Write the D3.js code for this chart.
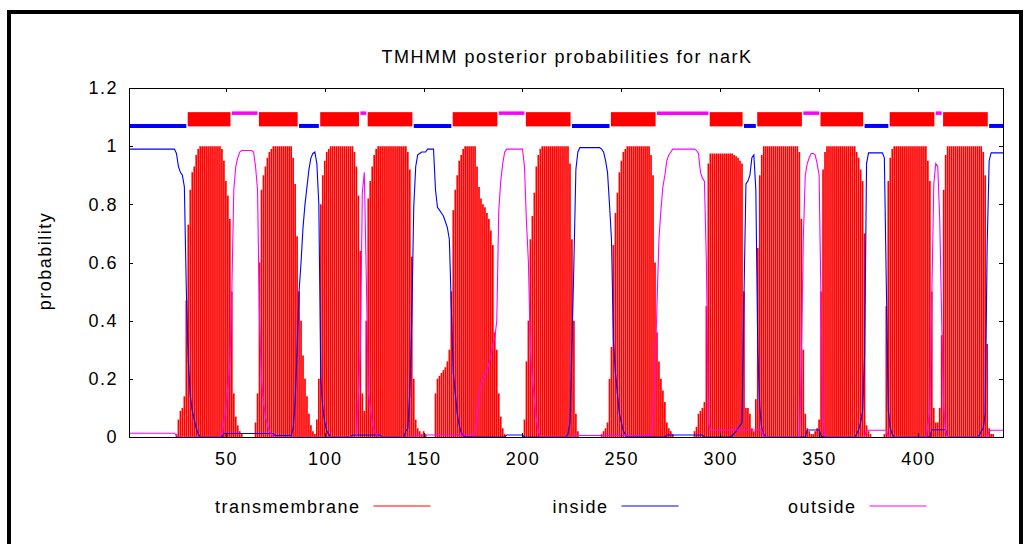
<!DOCTYPE html>
<html>
<head>
<meta charset="utf-8">
<script src="https://cdn.jsdelivr.net/npm/d3@7"></script>
<style>
  html, body { margin: 0; padding: 0; background: #fff; }
  svg { display: block; }
  text {
    font-family: "Liberation Sans", Arial, Helvetica, sans-serif;
    font-size: 18px;
    letter-spacing: 1.5px;
    fill: #000;
  }
</style>
</head>
<body>
<svg id="chart" width="1024" height="544"></svg>
<script>
// ---- data -------------------------------------------------------------
const chartTitle = "TMHMM posterior probabilities for narK";
const yAxisLabel = "probability";
const seqLength = 443;
const xTicks = [50, 100, 150, 200, 250, 300, 350, 400];
const yTicks = [0, 0.2, 0.4, 0.6, 0.8, 1, 1.2];
const seriesNames = ["transmembrane", "inside", "outside"];

// posterior probability per residue (1..443)
const transmembrane = [
  0,0,0,0,0,0,0,0,0,0,
  0,0,0,0,0,0,0,0,0,0,
  0,0,0,0,0.01,0.06,0.09,0.1,0.14,0.47,
  0.73,0.85,0.91,0.93,0.97,0.99,1,1,1,1,
  1,1,1,1,1,1,1,0.99,0.95,0.88,
  0.83,0.75,0.5,0.15,0.07,0.04,0.02,0.01,0,0,
  0,0,0,0,0.05,0.15,0.6,0.85,0.9,0.93,
  0.96,0.98,0.99,1,1,1,1,1,1,1,
  1,1,1,0.96,0.87,0.69,0.5,0.4,0.28,0.2,
  0.14,0.08,0.04,0.02,0.01,0.06,0.2,0.8,0.9,0.95,
  0.98,0.99,1,1,1,1,1,1,1,1,
  1,1,1,1,0.98,0.93,0.83,0.64,0.15,0.09,
  0.4,0.82,0.88,0.93,0.97,0.99,1,1,1,1,
  1,1,1,1,1,1,1,1,1,1,
  1,0.98,0.92,0.62,0.2,0.06,0.03,0.02,0.01,0.02,
  0.01,0,0,0,0,0.15,0.2,0.21,0.22,0.23,
  0.24,0.26,0.3,0.5,0.78,0.85,0.9,0.95,0.97,0.99,
  1,1,1,1,1,1,0.93,0.86,0.82,0.8,
  0.79,0.77,0.75,0.71,0.66,0.36,0.3,0.15,0.07,0.03,
  0.01,0,0,0,0,0,0,0,0,0,
  0.06,0.26,0.4,0.68,0.76,0.84,0.93,0.97,0.99,1,
  1,1,1,1,1,1,1,1,1,1,
  1,1,1,0.94,0.68,0.4,0.08,0.02,0,0,
  0,0,0,0,0,0,0,0,0,0.01,
  0.02,0.03,0.05,0.2,0.31,0.66,0.77,0.84,0.91,0.95,
  0.98,0.99,1,1,1,1,1,1,1,1,
  1,1,1,1,0.97,0.9,0.6,0.36,0.26,0.2,
  0.16,0.12,0.05,0.03,0.02,0.01,0,0,0,0,
  0,0,0,0,0,0,0.02,0.035,0.08,0.09,
  0.1,0.12,0.45,0.94,0.975,0.975,0.975,0.975,0.975,0.975,
  0.975,0.975,0.975,0.975,0.975,0.975,0.97,0.965,0.96,0.95,
  0.94,0.5,0.1,0.1,0.08,0.03,0.02,0.13,0.65,0.9,
  0.97,1,1,1,1,1,1,1,1,1,
  1,1,1,1,1,1,1,1,1,0.98,
  0.75,0.3,0.08,0.03,0.02,0.01,0.01,0.02,0.03,0.06,
  0.5,0.92,0.98,1,1,1,1,1,1,1,
  1,1,1,1,1,1,1,1,0.98,0.96,
  0.92,0.88,0.7,0.04,0.02,0.01,0,0,0,0,
  0,0,0.01,0.45,0.88,0.96,0.99,1,1,1,
  1,1,1,1,1,1,1,1,1,1,
  1,1,1,1,0.95,0.88,0.5,0.1,0.05,0.05,
  0.1,0.35,0.85,0.97,1,1,1,1,1,1,
  1,1,1,1,1,1,1,1,1,1,
  1,1,0.98,0.9,0.32,0.03,0.01,0.01,0,0,
  0,0,0
];

const inside = [
  0.99,0.99,0.99,0.99,0.99,0.99,0.99,0.99,0.99,0.99,
  0.99,0.99,0.99,0.99,0.99,0.99,0.99,0.99,0.99,0.99,
  0.99,0.99,0.99,0.99,0.975,0.93,0.91,0.9,0.86,0.5,
  0.26,0.14,0.09,0.06,0.03,0.01,0,0,0,0,
  0,0,0,0,0,0,0,0,0.012,0.012,
  0.012,0.012,0.012,0.012,0.012,0.012,0.012,0.012,0.012,0.012,
  0.012,0.012,0.012,0.012,0.012,0.012,0.012,0.012,0.012,0.012,
  0.012,0.012,0.012,0.012,0.005,0.005,0.005,0.005,0.005,0.005,
  0.005,0.005,0.005,0.03,0.12,0.3,0.5,0.6,0.72,0.8,
  0.86,0.92,0.96,0.975,0.98,0.94,0.8,0.2,0.1,0.05,
  0.02,0.01,0,0,0,0,0,0,0,0,
  0,0,0,0.007,0.007,0.007,0.007,0.007,0.007,0.007,
  0.007,0.007,0.007,0.007,0.007,0.007,0.007,0.007,0,0,
  0,0,0,0,0,0,0,0,0,0,
  0.02,0.03,0.15,0.4,0.79,0.93,0.97,0.975,0.98,0.98,
  0.98,0.99,0.99,0.99,0.99,0.85,0.79,0.78,0.77,0.76,
  0.74,0.72,0.68,0.45,0.22,0.15,0.08,0.04,0.015,0.005,
  0,0,0,0,0,0,0,0,0,0,
  0,0,0,0,0,0,0,0,0,0,
  0,0.007,0.007,0.007,0.007,0.007,0.007,0.007,0.007,0.007,
  0,0,0,0,0,0,0,0,0,0,
  0,0,0,0,0,0,0,0,0,0,
  0,0,0.01,0.05,0.31,0.6,0.92,0.98,0.995,0.995,
  0.995,0.995,0.995,0.995,0.995,0.995,0.995,0.995,0.995,0.99,
  0.98,0.95,0.91,0.8,0.68,0.33,0.22,0.15,0.08,0.05,
  0.02,0.01,0,0,0,0,0,0,0,0,
  0,0,0,0,0,0,0,0,0,0,
  0,0,0.007,0.007,0.007,0.007,0.007,0.007,0.007,0.007,
  0.007,0.007,0.007,0.007,0.007,0.007,0.007,0.007,0.007,0.007,
  0.007,0,0,0,0,0,0,0,0,0,
  0,0,0,0,0,0.005,0.012,0.02,0.03,0.04,
  0.05,0.48,0.87,0.88,0.9,0.96,0.97,0.85,0.3,0.1,
  0.03,0.01,0,0,0,0,0,0,0,0,
  0,0,0,0,0,0,0,0,0,0,
  0,0,0,0.024,0.024,0.024,0.024,0.024,0.024,0.024,
  0.005,0,0,0,0,0,0,0,0,0,
  0,0,0,0,0,0,0,0,0.01,0.025,
  0.05,0.09,0.28,0.94,0.977,0.977,0.977,0.977,0.977,0.977,
  0.977,0.977,0.96,0.52,0.09,0.03,0.01,0,0,0,
  0,0,0,0,0,0,0,0,0,0,
  0,0,0,0,0,0,0.025,0.025,0.025,0.025,
  0.025,0.025,0.025,0.025,0,0,0,0,0,0,
  0,0,0,0,0,0,0,0,0,0,
  0.005,0.02,0.03,0.08,0.66,0.95,0.977,0.977,0.977,0.977,
  0.977,0.977,0.977
];

const outside = [
  0.013,0.013,0.013,0.013,0.013,0.013,0.013,0.013,0.013,0.013,
  0.013,0.013,0.013,0.013,0.013,0.013,0.013,0.013,0.013,0.013,
  0.013,0.013,0.013,0.013,0.005,0,0,0,0,0,
  0,0,0,0,0,0,0,0,0,0,
  0,0,0,0,0,0,0,0.01,0.05,0.1,
  0.17,0.25,0.5,0.85,0.93,0.96,0.98,0.985,0.985,0.985,
  0.985,0.985,0.985,0.98,0.93,0.85,0.4,0.2,0.12,0.07,
  0.04,0.02,0.01,0,0,0,0,0,0,0,
  0,0,0,0,0,0,0,0,0,0,
  0,0,0,0,0,0,0,0,0,0,
  0,0,0,0,0,0,0,0,0,0,
  0,0,0,0,0,0,0.15,0.3,0.84,0.91,
  0.55,0.16,0.1,0.05,0.02,0.01,0,0,0,0,
  0,0,0,0,0,0,0,0,0,0,
  0,0,0,0,0.007,0.007,0.007,0.007,0.007,0.007,
  0.007,0.007,0.007,0.007,0.007,0.007,0.007,0.007,0.007,0.007,
  0.007,0.007,0.007,0.007,0.007,0.007,0.007,0.007,0.007,0.007,
  0.007,0.007,0.007,0.007,0.007,0.01,0.07,0.14,0.18,0.2,
  0.21,0.23,0.25,0.28,0.32,0.34,0.4,0.78,0.88,0.94,
  0.98,0.99,0.99,0.99,0.99,0.99,0.99,0.99,0.99,0.99,
  0.93,0.74,0.6,0.3,0.2,0.13,0.06,0.02,0,0,
  0,0,0,0,0,0,0,0,0,0,
  0,0,0,0,0,0.007,0.007,0.007,0.005,0.005,
  0.005,0.005,0.005,0.005,0.005,0.005,0.005,0.005,0.005,0.005,
  0.005,0.005,0.005,0.005,0.005,0.005,0.005,0.005,0.005,0.005,
  0.005,0.005,0.005,0.005,0.005,0.005,0.005,0.005,0.005,0.005,
  0.005,0.005,0.005,0.005,0.005,0.06,0.2,0.45,0.68,0.78,
  0.86,0.9,0.95,0.97,0.98,0.99,0.99,0.99,0.99,0.99,
  0.99,0.99,0.99,0.99,0.99,0.99,0.99,0.985,0.975,0.91,
  0.89,0.88,0.6,0.05,0.024,0.024,0.024,0.024,0.024,0.024,
  0.024,0.024,0.024,0.024,0.024,0.024,0.024,0.024,0.024,0.024,
  0.024,0.024,0.024,0.024,0.024,0.024,0.024,0.024,0.024,0.024,
  0.024,0,0,0,0,0,0,0,0,0,
  0,0,0,0,0,0,0,0,0,0,
  0.24,0.68,0.9,0.94,0.96,0.975,0.975,0.97,0.94,0.9,
  0.45,0.06,0.01,0,0,0,0,0,0,0,
  0,0,0,0,0,0,0,0,0,0,
  0,0,0,0.023,0.023,0.023,0.023,0.023,0.023,0.023,
  0.023,0.023,0.023,0.023,0,0,0,0,0,0,
  0,0,0,0,0,0,0,0,0,0,
  0,0,0,0,0.04,0.1,0.48,0.87,0.94,0.93,
  0.75,0.4,0.1,0.02,0,0,0,0,0,0,
  0,0,0,0,0,0,0,0,0,0,
  0,0,0,0,0,0.02,0.023,0.023,0.023,0.023,
  0.023,0.023,0.023
];

// predicted topology: segment kind with first and last residue
const topoType  = ["inside","TMhelix","outside","TMhelix","inside","TMhelix","outside","TMhelix",
                   "inside","TMhelix","outside","TMhelix","inside","TMhelix","outside","TMhelix",
                   "inside","TMhelix","outside","TMhelix","inside","TMhelix","outside","TMhelix","inside"];
const topoStart = [1, 31, 53, 67, 87, 98, 118, 122, 145, 165, 188, 202, 225, 245, 268, 295,
                   312, 319, 342, 351, 373, 386, 409, 413, 436];
const topoEnd   = [30, 52, 66, 86, 97, 117, 121, 144, 164, 187, 201, 224, 244, 267, 294, 311,
                   318, 341, 350, 372, 385, 408, 412, 435, 443];

// ---- drawing ----------------------------------------------------------
const RED = "#ff0000", BLUE = "#0000ff", MAGENTA = "#ff00ff";
const svg = d3.select("#chart");
const plotBox = { left: 129, right: 1003, top: 88, bottom: 437 };

const x = d3.scaleLinear().domain([1, seqLength]).range([plotBox.left, plotBox.right]);
const y = d3.scaleLinear().domain([0, 1.2]).range([plotBox.bottom, plotBox.top]);

// page frame
svg.append("rect")
  .attr("x", 9).attr("y", 12).attr("width", 1012).attr("height", 600)
  .attr("fill", "none").attr("stroke", "#000").attr("stroke-width", 4);

svg.append("defs").append("clipPath").attr("id", "plot-clip")
  .append("rect")
  .attr("x", plotBox.left).attr("y", plotBox.top)
  .attr("width", plotBox.right - plotBox.left)
  .attr("height", plotBox.bottom - plotBox.top);

const plot = svg.append("g").attr("clip-path", "url(#plot-clip)");
const residues = d3.range(1, seqLength + 1);

// transmembrane posterior as impulses
plot.append("g").selectAll("line")
  .data(residues.filter(r => transmembrane[r - 1] > 0))
  .join("line")
  .attr("x1", r => x(r)).attr("x2", r => x(r))
  .attr("y1", y(0)).attr("y2", r => y(transmembrane[r - 1]))
  .attr("stroke", RED).attr("stroke-width", 1.7);

// inside / outside posterior curves
const curve = d3.line().x((d, i) => x(i + 1)).y(d => y(d));
plot.append("path").attr("d", curve(inside))
  .attr("fill", "none").attr("stroke", BLUE).attr("stroke-width", 1.1);
plot.append("path").attr("d", curve(outside))
  .attr("fill", "none").attr("stroke", MAGENTA).attr("stroke-width", 1.1);

// predicted topology strip above the curves
const topo = topoType.map((t, i) => ({ type: t, start: topoStart[i], end: topoEnd[i] }));
const strip = plot.append("g");
strip.selectAll("rect")
  .data(topo.filter(d => d.type === "TMhelix"))
  .join("rect")
  .attr("x", d => x(d.start - 0.5) + 0.4)
  .attr("width", d => x(d.end + 0.5) - x(d.start - 0.5) - 0.8)
  .attr("y", y(1.117))
  .attr("height", y(1.068) - y(1.117))
  .attr("fill", RED);
strip.selectAll("line")
  .data(topo.filter(d => d.type !== "TMhelix"))
  .join("line")
  .attr("x1", d => x(d.start)).attr("x2", d => x(d.end))
  .attr("y1", d => d.type === "inside" ? y(1.0695) : y(1.1135))
  .attr("y2", d => d.type === "inside" ? y(1.0695) : y(1.1135))
  .attr("stroke", d => d.type === "inside" ? BLUE : MAGENTA)
  .attr("stroke-width", d => d.type === "inside" ? 4 : 3.5);

// axes with inward ticks, mirrored on top and right
const fmt = d => String(+d.toFixed(1));
function styleAxis(g) {
  g.select(".domain").remove();
  g.selectAll(".tick line").attr("stroke", "#000").attr("shape-rendering", "crispEdges");
}
svg.append("g").attr("transform", `translate(0,${plotBox.bottom})`)
  .call(d3.axisBottom(x).tickValues(xTicks).tickSizeInner(-4).tickSizeOuter(0)
        .tickPadding(15).tickFormat(fmt))
  .call(styleAxis);
svg.append("g").attr("transform", `translate(0,${plotBox.top})`)
  .call(d3.axisTop(x).tickValues(xTicks).tickSizeInner(-4).tickSizeOuter(0).tickFormat(""))
  .call(styleAxis);
svg.append("g").attr("transform", `translate(${plotBox.left},0)`)
  .call(d3.axisLeft(y).tickValues(yTicks).tickSizeInner(-4).tickSizeOuter(0)
        .tickPadding(11).tickFormat(fmt))
  .call(styleAxis);
svg.append("g").attr("transform", `translate(${plotBox.right},0)`)
  .call(d3.axisRight(y).tickValues(yTicks).tickSizeInner(-4).tickSizeOuter(0).tickFormat(""))
  .call(styleAxis);

// plot border
svg.append("rect")
  .attr("x", plotBox.left).attr("y", plotBox.top)
  .attr("width", plotBox.right - plotBox.left)
  .attr("height", plotBox.bottom - plotBox.top)
  .attr("fill", "none").attr("stroke", "#000").attr("stroke-width", 1)
  .attr("shape-rendering", "crispEdges");

// title and axis label
svg.append("text")
  .attr("x", (plotBox.left + plotBox.right) / 2 + 1).attr("y", 63)
  .attr("text-anchor", "middle").text(chartTitle);
svg.append("text")
  .attr("transform", "translate(51,261) rotate(-90)")
  .attr("text-anchor", "middle").text(yAxisLabel);

// legend: label followed by a line sample
const legendColors = [RED, BLUE, MAGENTA];
const legendRight = [360.5, 608.5, 856.5];
const legend = svg.append("g");
seriesNames.forEach((name, i) => {
  legend.append("text")
    .attr("x", legendRight[i]).attr("y", 513)
    .attr("text-anchor", "end").text(name);
  legend.append("line")
    .attr("x1", legendRight[i] + 13).attr("x2", legendRight[i] + 70)
    .attr("y1", 506).attr("y2", 506)
    .attr("stroke", legendColors[i]).attr("stroke-width", 1);
});
</script>
</body>
</html>
